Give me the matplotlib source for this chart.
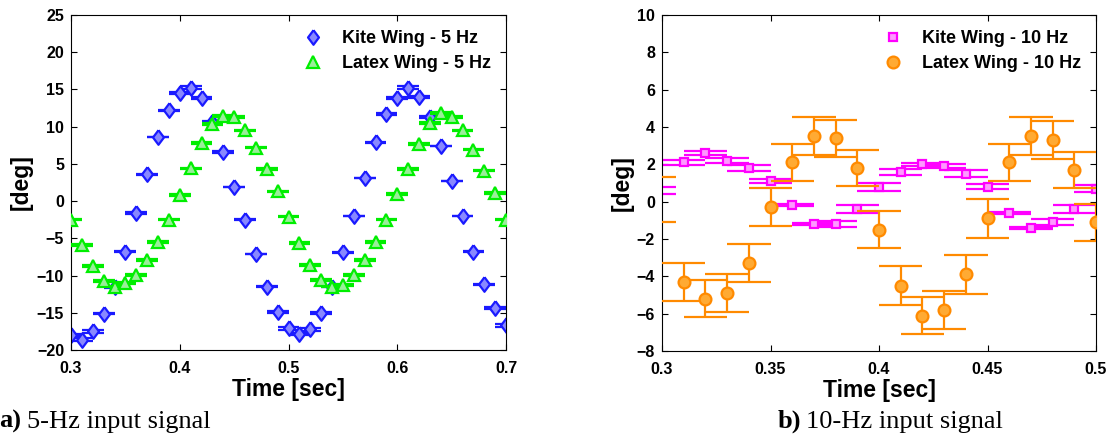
import numpy as np
import matplotlib
matplotlib.use("Agg")
import matplotlib.pyplot as plt
from matplotlib.lines import Line2D

plt.rcParams['font.family'] = ['Liberation Sans', 'DejaVu Sans']

# ---- 5 Hz data (deg) ----
t5 = [0.30, 0.31, 0.32, 0.33, 0.34, 0.35, 0.36, 0.37, 0.38, 0.39, 0.40,
      0.41, 0.42, 0.43, 0.44, 0.45, 0.46, 0.47, 0.48, 0.49, 0.50,
      0.51, 0.52, 0.53, 0.54, 0.55, 0.56, 0.57, 0.58, 0.59, 0.60,
      0.61, 0.62, 0.63, 0.64, 0.65, 0.66, 0.67, 0.68, 0.69, 0.70]
kite5 = [-18.0, -18.6, -17.5, -15.1, -11.6, -6.8, -1.6, 3.6, 8.6, 12.2, 14.5,
         15.2, 13.9, 10.6, 6.6, 1.9, -2.5, -7.1, -11.5, -14.9, -17.1,
         -17.8, -17.2, -15.0, -11.5, -6.9, -2.0, 3.1, 7.9, 11.7, 13.9,
         15.2, 14.0, 11.3, 7.4, 2.7, -2.0, -6.8, -11.2, -14.4, -16.7]
kite5_err = [0.15, 0.2, 0.15, 0.1, 0.1, 0.05, 0.1, 0.1, 0.05, 0.1, 0.15,
             0.2, 0.15, 0.1, 0.1, 0.05, 0.1, 0.05, 0.1, 0.1, 0.2,
             0.15, 0.2, 0.1, 0.05, 0.1, 0.05, 0.05, 0.05, 0.1, 0.15,
             0.2, 0.15, 0.1, 0.05, 0.05, 0.05, 0.1, 0.1, 0.15, 0.15]
latex5 = [-2.5, -5.9, -8.7, -10.7, -11.5, -11.0, -9.9, -7.9, -5.5, -2.5, 0.8,
          4.4, 7.8, 10.4, 11.4, 11.3, 9.5, 7.2, 4.3, 1.3, -2.1,
          -5.6, -8.6, -10.6, -11.5, -11.3, -9.9, -7.9, -5.5, -2.5, 1.0,
          4.3, 7.7, 10.5, 11.8, 11.3, 9.5, 6.9, 4.1, 1.1, -2.5]
latex5_err = [0.1, 0.1, 0.1, 0.15, 0.1, 0.1, 0.1, 0.1, 0.1, 0.1, 0.15,
              0.1, 0.1, 0.15, 0.15, 0.15, 0.1, 0.1, 0.1, 0.1, 0.1,
              0.1, 0.1, 0.15, 0.1, 0.1, 0.1, 0.1, 0.1, 0.1, 0.15,
              0.1, 0.1, 0.15, 0.15, 0.15, 0.1, 0.1, 0.1, 0.1, 0.1]

# ---- 10 Hz data (deg) ----
t10 = [0.2965, 0.31, 0.32, 0.33, 0.34, 0.35, 0.36, 0.37, 0.38, 0.39, 0.40,
       0.41, 0.42, 0.43, 0.44, 0.45, 0.46, 0.47, 0.48, 0.49, 0.50, 0.511]
kite10 = [0.6, 2.1, 2.6, 2.2, 1.8, 1.1, -0.2, -1.2, -1.2, -0.4, 0.8,
          1.6, 2.0, 1.9, 1.5, 0.8, -0.6, -1.4, -1.1, -0.4, 0.7, 1.6]
kite10_err = [0.18, 0.13, 0.1, 0.12, 0.18, 0.1, 0.05, 0.05, 0.16, 0.2, 0.22,
              0.15, 0.07, 0.1, 0.18, 0.13, 0.05, 0.05, 0.15, 0.2, 0.2, 0.2]
latex10 = [0.1, -4.3, -5.2, -4.9, -3.3, -0.3, 2.1, 3.5, 3.4, 1.8, -1.5,
           -4.5, -6.1, -5.8, -3.9, -0.9, 2.1, 3.5, 3.3, 1.7, -1.1, -4.0]
latex10_err = [1.2, 1.0, 0.98, 1.0, 1.03, 1.03, 1.0, 1.02, 1.0, 0.98, 1.0,
               1.03, 0.98, 1.0, 1.04, 1.03, 1.0, 1.02, 1.0, 0.98, 1.0, 1.03]

cap_half = 0.01  # half width of the error bar tees (data units)


def draw_series(ax, t, v, err, marker, ms, edge, face, z):
    t = np.array(t)
    v = np.array(v)
    err = np.array(err)
    ax.vlines(t, v - err, v + err, colors=edge, lw=1.6, zorder=z)
    ax.hlines(v - err, t - cap_half, t + cap_half, colors=edge, lw=1.6, zorder=z)
    ax.hlines(v + err, t - cap_half, t + cap_half, colors=edge, lw=1.6, zorder=z)
    ax.plot(t, v, linestyle='none', marker=marker, ms=ms, mec=edge, mfc=face,
            mew=1.6, zorder=z + 0.5)


def style_axes(ax):
    ax.tick_params(direction='in', top=True, right=True, length=4,
                   labelsize=11.5, pad=5)
    ax.tick_params(axis='x', pad=8)
    for lab in ax.get_xticklabels() + ax.get_yticklabels():
        lab.set_fontweight('bold')
    ax.set_xlabel('Time [sec]', fontsize=16.5, fontweight='bold')
    ax.set_ylabel('[deg]', fontsize=16.5, fontweight='bold')


fig = plt.figure(figsize=(11.1, 4.37), dpi=100)

diamond = [(0, 1), (0.75, 0), (0, -1), (-0.75, 0), (0, 1)]
leg_font = {'weight': 'bold', 'size': 13}

# (a) 5 Hz
ax1 = fig.add_axes([71 / 1110, 87 / 437, 435 / 1110, 335 / 437])
draw_series(ax1, t5, kite5, kite5_err, diamond, 10.5, '#1a1aff', '#8888ff', 2)
draw_series(ax1, t5, latex5, latex5_err, '^', 8.5, '#00ee00', '#99ee99', 3)
ax1.set_xlim(0.3, 0.7)
ax1.set_ylim(-20, 25)
ax1.set_xticks([0.3, 0.4, 0.5, 0.6, 0.7])
ax1.set_xticklabels(['0.3', '0.4', '0.5', '0.6', '0.7'])
ax1.set_yticks(np.arange(-20, 26, 5))
style_axes(ax1)
ax1.yaxis.set_label_coords(-0.088, 0.5)
ax1.xaxis.set_label_coords(0.5, -0.084)
h1 = [Line2D([], [], ls='none', marker=diamond, ms=10.5, mec='#1a1aff', mfc='#8888ff', mew=1.6),
      Line2D([], [], ls='none', marker='^', ms=8.5, mec='#00ee00', mfc='#99ee99', mew=1.6)]
ax1.legend(h1, ['Kite Wing - 5 Hz', 'Latex Wing - 5 Hz'], loc='upper right',
           frameon=False, prop=leg_font, handlelength=1.2,
           handletextpad=1.0, labelspacing=0.45, borderaxespad=0.45)

# (b) 10 Hz
ax2 = fig.add_axes([662 / 1110, 86 / 437, 434 / 1110, 336 / 437])
draw_series(ax2, t10, kite10, kite10_err, 's', 6, '#ff00ff', '#ff99ff', 2)
draw_series(ax2, t10, latex10, latex10_err, 'o', 8.5, '#ff8a00', '#ffaa33', 3)
ax2.set_xlim(0.3, 0.5)
ax2.set_ylim(-8, 10)
ax2.set_xticks([0.3, 0.35, 0.4, 0.45, 0.5])
ax2.set_xticklabels(['0.3', '0.35', '0.4', '0.45', '0.5'])
ax2.set_yticks(np.arange(-8, 11, 2))
style_axes(ax2)
ax2.yaxis.set_label_coords(-0.066, 0.5)
ax2.xaxis.set_label_coords(0.5, -0.084)
h2 = [Line2D([], [], ls='none', marker='s', ms=6, mec='#ff00ff', mfc='#ff99ff', mew=1.6),
      Line2D([], [], ls='none', marker='o', ms=8.5, mec='#ff8a00', mfc='#ffaa33', mew=1.6)]
ax2.legend(h2, ['Kite Wing - 10 Hz', 'Latex Wing - 10 Hz'], loc='upper right',
           frameon=False, prop=leg_font, handlelength=1.2,
           handletextpad=1.0, labelspacing=0.45, borderaxespad=0.45)

# captions
cap_y = (437 - 428) / 437
fig.text(-1 / 1110, cap_y, 'a)', fontsize=19, fontweight='bold',
         family='Liberation Serif', va='baseline')
fig.text(27 / 1110, cap_y, '5-Hz input signal', fontsize=19,
         family='Liberation Serif', va='baseline')
fig.text(778 / 1110, cap_y, 'b)', fontsize=19, fontweight='bold',
         family='Liberation Serif', va='baseline')
fig.text(806 / 1110, cap_y, '10-Hz input signal', fontsize=19,
         family='Liberation Serif', va='baseline')

fig.savefig('out.png', dpi=100)
